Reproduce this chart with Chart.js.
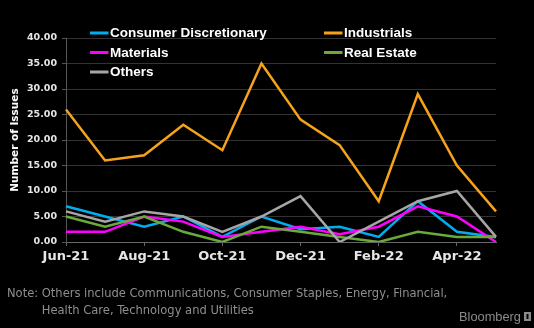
<!DOCTYPE html>
<html>
<head>
<meta charset="utf-8">
<script src="https://cdn.jsdelivr.net/npm/chart.js@4/dist/chart.umd.min.js"></script>
<style>
  html, body { margin: 0; padding: 0; background: #000; }
  #wrap { position: relative; width: 534px; height: 328px; background: #000; }
  canvas { display: block; }
</style>
</head>
<body>
<div id="wrap"><canvas id="c" width="534" height="328"></canvas></div>
<script>
const months = ['Jun-21','Jul-21','Aug-21','Sep-21','Oct-21','Nov-21','Dec-21','Jan-22','Feb-22','Mar-22','Apr-22','May-22'];
const consumerDiscretionary = [7, 5, 3, 5, 1, 5, 2.5, 3, 1, 8, 2, 1];
const industrials = [26, 16, 17, 23, 18, 35, 24, 19, 8, 29, 15, 6];
const materials = [2, 2, 5, 4, 1, 2, 3, 1.5, 3, 7, 5, 0];
const realEstate = [5, 3, 5, 2, 0, 3, 2, 1, 0, 2, 1, 1];
const others = [6, 4, 6, 5, 2, 5, 9, 0, 4, 8, 10, 1];
const yTicks = [0, 5, 10, 15, 20, 25, 30, 35, 40];
const seriesNames = ['Consumer Discretionary', 'Industrials', 'Materials', 'Real Estate', 'Others'];
const noteLines = ['Note: Others include Communications, Consumer Staples, Energy, Financial,',
                   'Health Care, Technology and Utilities'];
const sourceText = 'Bloomberg';

const colors = ['#00aeef', '#f7a21b', '#ff00ff', '#6aaa3a', '#a6a6a6'];
const seriesData = [consumerDiscretionary, industrials, materials, realEstate, others];
const drawOrder = [4, 5, 3, 2, 1];

const datasets = seriesNames.map((name, i) => ({
  label: name,
  data: seriesData[i],
  borderColor: colors[i],
  backgroundColor: colors[i],
  borderWidth: 2.5,
  pointRadius: 0,
  tension: 0,
  fill: false,
  order: drawOrder[i]
}));

function fitFont(ctx, text, family, weight, width) {
  let size = 12;
  ctx.font = weight + ' ' + size + 'px ' + family;
  const w = ctx.measureText(text).width;
  return size * width / w;
}

const overlay = {
  id: 'overlay',
  afterDraw(chart) {
    const ctx = chart.ctx;
    ctx.save();
    // legend
    const legendPos = [[90, 33], [324, 33], [90, 52.5], [324, 52.5], [90, 72]];
    const fam = '"Liberation Sans", Arial, sans-serif';
    const lsz = fitFont(ctx, seriesNames[0], fam, 'bold', 157);
    seriesNames.forEach((n, i) => {
      const [x, y] = legendPos[i];
      ctx.strokeStyle = colors[i];
      ctx.lineWidth = 3;
      ctx.beginPath();
      ctx.moveTo(x, y);
      ctx.lineTo(x + 18.5, y);
      ctx.stroke();
      ctx.fillStyle = '#ffffff';
      ctx.font = 'bold ' + lsz + 'px ' + fam;
      ctx.textBaseline = 'middle';
      ctx.textAlign = 'left';
      ctx.fillText(n, x + 20, y + 0.5);
    });
    // note
    const nfam = '"DejaVu Sans Condensed", "DejaVu Sans", sans-serif';
    const nsz = fitFont(ctx, noteLines[0], nfam, 'normal', 441);
    ctx.font = 'normal ' + nsz + 'px ' + nfam;
    ctx.fillStyle = '#8e8e8e';
    ctx.textBaseline = 'alphabetic';
    ctx.fillText(noteLines[0], 7, 297);
    const indent = ctx.measureText('Note: ').width;
    ctx.fillText(noteLines[1], 7 + indent, 313.5);
    // source
    const sfam = '"Liberation Sans", Arial, sans-serif';
    const ssz = fitFont(ctx, sourceText, sfam, 'normal', 62);
    ctx.font = 'normal ' + ssz + 'px ' + sfam;
    ctx.fillStyle = '#8a8a8a';
    ctx.fillText(sourceText, 459, 321);
    // icon
    ctx.fillStyle = '#8a8a8a';
    ctx.fillRect(524, 312, 7, 9);
    ctx.fillStyle = '#000';
    ctx.fillRect(526.5, 314, 2, 5);
    ctx.restore();
  }
};

new Chart(document.getElementById('c'), {
  type: 'line',
  data: { labels: months, datasets },
  options: {
    responsive: false,
    animation: false,
    layout: { padding: { left: 0, top: 38, right: 38, bottom: 0 } },
    plugins: { legend: { display: false }, tooltip: { enabled: false } },
    scales: {
      x: {
        offset: false,
        afterFit(s) { s.height = 86; },
        afterBuildTicks(s) { s.ticks = s.ticks.filter((t, i) => i % 2 === 0); },
        grid: { drawOnChartArea: false, color: '#666', tickLength: 4, tickWidth: 1 },
        border: { color: '#666', width: 1 },
        ticks: {
          autoSkip: false,
          maxRotation: 0,
          color: '#e6e6e6',
          padding: 3,
          font: { family: '"DejaVu Sans", sans-serif', weight: 'bold', size: 13 },
          callback(v) { return months[v]; }
        }
      },
      y: {
        min: 0, max: 40,
        afterFit(s) { s.width = 66; },
        afterBuildTicks(s) { s.ticks = yTicks.map(v => ({ value: v })); },
        grid: { color: '#333', tickLength: 4, tickColor: '#555' },
        border: { color: '#555', width: 1 },
        ticks: {
          color: '#e6e6e6',
          padding: 5,
          font: { family: '"DejaVu Sans", sans-serif', weight: 'bold', size: 9.5 },
          callback(v) { return Number(v).toFixed(2); }
        },
        title: {
          display: true,
          text: 'Number of Issues',
          color: '#ffffff',
          padding: { top: 9, bottom: 0 },
          font: { family: '"DejaVu Sans", sans-serif', weight: 'bold', size: 10.5 }
        }
      }
    }
  },
  plugins: [overlay]
});
</script>
</body>
</html>
